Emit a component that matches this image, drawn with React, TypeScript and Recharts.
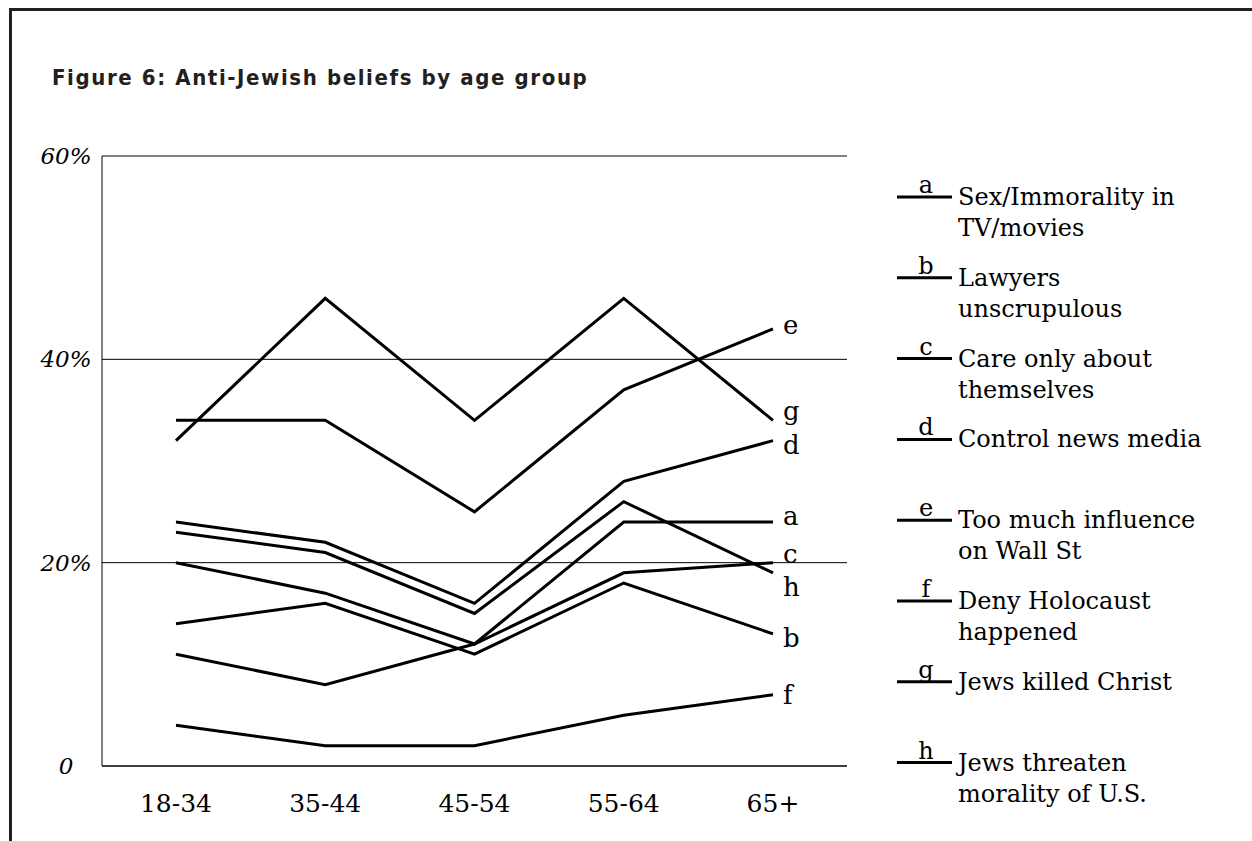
import { LineChart, Line, XAxis, YAxis, CartesianGrid } from 'recharts'

const ageGroups = ['18-34', '35-44', '45-54', '55-64', '65+']

const sexImmorality = [20, 17, 12, 24, 24]
const lawyers = [14, 16, 11, 18, 13]
const careOnly = [11, 8, 12, 19, 20]
const controlMedia = [24, 22, 16, 28, 32]
const wallStreet = [34, 34, 25, 37, 43]
const denyHolocaust = [4, 2, 2, 5, 7]
const killedChrist = [32, 46, 34, 46, 34]
const threatenMorality = [23, 21, 15, 26, 19]

const yTicks = [0, 20, 40, 60]

const series = [
  { key: 'a', values: sexImmorality, label: ['Sex/Immorality in', 'TV/movies'] },
  { key: 'b', values: lawyers, label: ['Lawyers', 'unscrupulous'] },
  { key: 'c', values: careOnly, label: ['Care only about', 'themselves'] },
  { key: 'd', values: controlMedia, label: ['Control news media'] },
  { key: 'e', values: wallStreet, label: ['Too much influence', 'on Wall St'] },
  { key: 'f', values: denyHolocaust, label: ['Deny Holocaust', 'happened'] },
  { key: 'g', values: killedChrist, label: ['Jews killed Christ'] },
  { key: 'h', values: threatenMorality, label: ['Jews threaten', 'morality of U.S.'] },
]

// baseline shift of the letter at the end of each line
const endLabelShift: Record<string, number> = { a: 3, b: 13, c: 0, d: 13, e: 5, f: 9, g: 0, h: 23 }

const data = ageGroups.map((age, i) => {
  const row: Record<string, string | number> = { age }
  series.forEach((s) => {
    row[s.key] = s.values[i]
  })
  return row
})

const SERIF = "'DejaVu Serif', 'Liberation Serif', serif"
const INK = '#000'

const XTick = ({ x, y, payload }: any) => (
  <text x={x} y={y} dy={46} textAnchor="middle" fontFamily={SERIF} fontSize={25} fill={INK}>
    {payload.value}
  </text>
)

const YTick = ({ y, payload }: any) => (
  <text x={54} y={y} dy={8} textAnchor="middle" fontFamily={SERIF} fontStyle="italic" fontSize={23} fill={INK}>
    {payload.value === 0 ? '0' : `${payload.value}%`}
  </text>
)

const endLabel = (letter: string) => (props: any) => {
  const { cx, cy, index } = props
  if (index !== ageGroups.length - 1) return <g key={`${letter}-${index}`} />
  return (
    <text key={`${letter}-${index}`} x={cx + 10} y={cy + endLabelShift[letter]} fontFamily={SERIF} fontSize={26} fill={INK}>
      {letter}
    </text>
  )
}

function Overlay() {
  return (
    <svg width={1240} height={830} style={{ position: 'absolute', left: 0, top: 0, pointerEvents: 'none' }}>
      <text
        x={40}
        y={74}
        fontFamily="'DejaVu Sans Condensed', 'Liberation Sans Narrow', sans-serif"
        fontWeight="bold"
        fontSize={22}
        letterSpacing={1.6}
        fill="#231f20"
      >
        Figure 6: Anti-Jewish beliefs by age group
      </text>
      {series.map((s, i) => {
        const y = 186 + i * 80.8
        return (
          <g key={s.key}>
            <line x1={885} x2={940} y1={y} y2={y} stroke={INK} strokeWidth={3} />
            <text x={914} y={y - 4} textAnchor="middle" fontFamily={SERIF} fontSize={24} fill={INK}>
              {s.key}
            </text>
            {s.label.map((t, j) => (
              <text key={t} x={946} y={y + 8 + j * 31} fontFamily={SERIF} fontSize={24} fill={INK}>
                {t}
              </text>
            ))}
          </g>
        )
      })}
    </svg>
  )
}

export default function App() {
  return (
    <div
      style={{
        position: 'absolute',
        left: 9,
        top: 8,
        width: 1243,
        height: 833,
        boxSizing: 'border-box',
        borderTop: '3px solid #231f20',
        borderLeft: '3px solid #231f20',
        background: '#fff',
      }}
    >
      <LineChart width={1240} height={830} data={data} margin={{ top: 145, right: 405, left: 10, bottom: 15 }}>
        <CartesianGrid vertical={false} stroke="#000" strokeWidth={1} />
        <XAxis
          dataKey="age"
          height={60}
          padding={{ left: 74, right: 74 }}
          axisLine={{ stroke: '#000' }}
          tickLine={false}
          tickSize={0}
          tickMargin={0}
          tick={<XTick />}
          interval={0}
        />
        <YAxis
          width={80}
          domain={[0, 60]}
          ticks={yTicks}
          axisLine={{ stroke: '#000' }}
          tickLine={false}
          tick={<YTick />}
        />
        {series.map((s) => (
          <Line
            key={s.key}
            type="linear"
            dataKey={s.key}
            stroke={INK}
            strokeWidth={3}
            dot={endLabel(s.key)}
            activeDot={false}
            isAnimationActive={false}
          />
        ))}
      </LineChart>
      <Overlay />
    </div>
  )
}
